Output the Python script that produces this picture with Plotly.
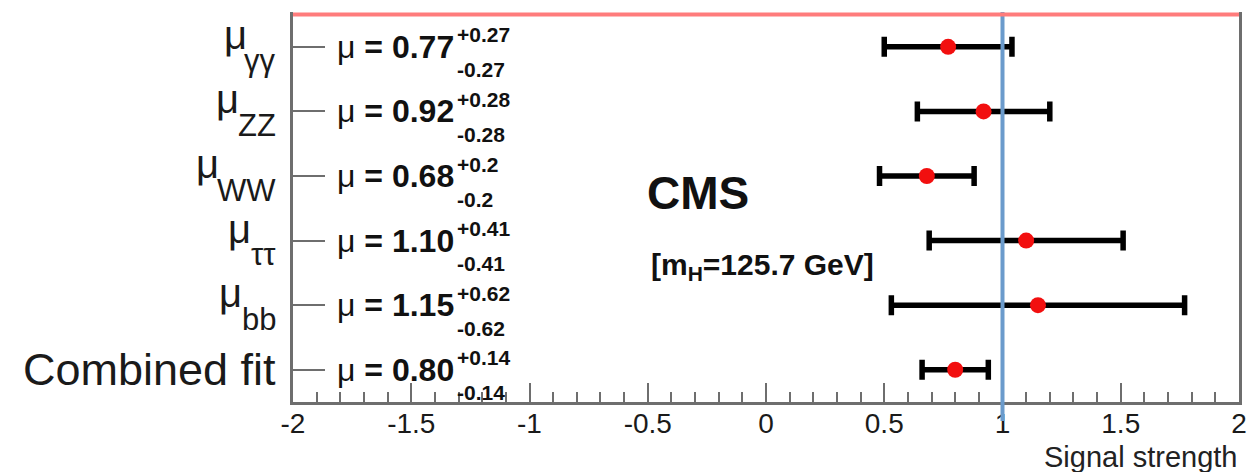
import plotly.graph_objects as go

# Channel signal strengths (best fit and symmetric uncertainty)
channels = ["γγ", "ZZ", "WW", "ττ", "bb", "Combined fit"]
mu_values = [0.77, 0.92, 0.68, 1.10, 1.15, 0.80]
mu_up = [0.27, 0.28, 0.2, 0.41, 0.62, 0.14]
mu_down = [0.27, 0.28, 0.2, 0.41, 0.62, 0.14]
x_ticks = [-2, -1.5, -1, -0.5, 0, 0.5, 1, 1.5, 2]
x_tick_labels = ["-2", "-1.5", "-1", "-0.5", "0", "0.5", "1", "1.5", "2"]
sm_value = 1.0

W, H = 1258, 472
L, R, T, B = 293, 19, 12, 70
PW, PH = W - L - R, H - T - B

FONT = "Liberation Sans, Arial, Helvetica, sans-serif"
AXIS_GREY = "#6e6e6e"


def px_x(px):
    return (px - L) / PW


def px_y(py):
    return 1 - (py - T) / PH


rows = list(range(len(channels)))

fig = go.Figure()

fig.add_trace(go.Scatter(
    x=mu_values,
    y=rows,
    mode="markers",
    marker=dict(color="#f20f0f", size=16, line=dict(width=0)),
    error_x=dict(
        type="data",
        symmetric=False,
        array=mu_up,
        arrayminus=mu_down,
        color="#000000",
        thickness=5.5,
        width=10,
    ),
    showlegend=False,
    cliponaxis=False,
))

shapes = [
    # SM expectation
    dict(type="line", xref="x", yref="paper", x0=sm_value, x1=sm_value,
         y0=px_y(421), y1=1, line=dict(color="#6b9bcc", width=4), layer="above"),
    # top boundary
    dict(type="line", xref="paper", yref="y", x0=0, x1=1, y0=-0.5, y1=-0.5,
         line=dict(color="#ff7c7c", width=4), layer="above"),
]

annotations = []

# Channel labels on the left: mu with a lowered subscript
mu_left = {"γγ": 222, "ZZ": 214, "WW": 194, "ττ": 226, "bb": 217}
for i, ch in enumerate(channels):
    if ch == "Combined fit":
        annotations.append(dict(
            text=ch, xref="paper", yref="y", x=px_x(278), y=i,
            xanchor="right", yanchor="middle", showarrow=False,
            font=dict(family=FONT, size=45, color="#1a1a1a"),
        ))
        continue
    annotations.append(dict(
        text="μ", xref="paper", yref="y", x=px_x(mu_left[ch]), y=i, yshift=12,
        xanchor="left", yanchor="middle", showarrow=False,
        font=dict(family=FONT, size=40, color="#1a1a1a"),
    ))
    annotations.append(dict(
        text=ch, xref="paper", yref="y", x=px_x(278), y=i, yshift=-14,
        xanchor="right", yanchor="middle", showarrow=False,
        font=dict(family=FONT, size=31, color="#1a1a1a"),
    ))

# Fitted values with their uncertainties
for i, (v, up, dn) in enumerate(zip(mu_values, mu_up, mu_down)):
    annotations.append(dict(
        text=f"μ <b>= {v:.2f}</b>", xref="paper", yref="y", x=px_x(456), y=i,
        xanchor="right", yanchor="middle", showarrow=False,
        font=dict(family=FONT, size=32, color="#111111"),
    ))
    annotations.append(dict(
        text=f"<b>+{up:g}</b>", xref="paper", yref="y", x=px_x(455), y=i, yshift=12,
        xanchor="left", yanchor="middle", showarrow=False,
        font=dict(family=FONT, size=21, color="#111111"),
    ))
    annotations.append(dict(
        text=f"<b>-{dn:g}</b>", xref="paper", yref="y", x=px_x(455), y=i, yshift=-23,
        xanchor="left", yanchor="middle", showarrow=False,
        font=dict(family=FONT, size=21, color="#111111"),
    ))

annotations += [
    dict(text="<b>CMS</b>", xref="paper", yref="paper", x=px_x(698), y=px_y(193),
         xanchor="center", yanchor="middle", showarrow=False,
         font=dict(family=FONT, size=46, color="#111111")),
    dict(text="<b>[m<sub>H</sub>=125.7 GeV]</b>", xref="paper", yref="paper",
         x=px_x(649), y=px_y(266), xanchor="left", yanchor="middle", showarrow=False,
         font=dict(family=FONT, size=30, color="#111111")),
    dict(text="Signal strength", xref="paper", yref="paper", x=px_x(1239), y=px_y(457),
         xanchor="right", yanchor="middle", showarrow=False,
         font=dict(family=FONT, size=29, color="#222222")),
]

fig.update_layout(
    width=W, height=H,
    margin=dict(l=L, r=R, t=T, b=B, pad=0),
    paper_bgcolor="white",
    plot_bgcolor="white",
    shapes=shapes,
    annotations=annotations,
    xaxis=dict(
        range=[-2, 2],
        tickvals=x_ticks,
        ticktext=x_tick_labels,
        ticks="inside",
        ticklen=19,
        tickwidth=2,
        tickcolor=AXIS_GREY,
        minor=dict(dtick=0.1, ticks="inside", ticklen=10, tickwidth=2, tickcolor=AXIS_GREY),
        showline=True,
        linecolor=AXIS_GREY,
        linewidth=3,
        mirror=False,
        showgrid=False,
        zeroline=False,
        tickfont=dict(family=FONT, size=28, color="#1a1a1a"),
        ticklabelstandoff=-6,
    ),
    yaxis=dict(
        range=[5.5, -0.54],
        tickvals=rows,
        showticklabels=False,
        ticks="inside",
        ticklen=32,
        tickwidth=2,
        tickcolor=AXIS_GREY,
        showline=True,
        linecolor=AXIS_GREY,
        linewidth=3,
        mirror=True,
        showgrid=False,
        zeroline=False,
    ),
)

fig.write_html("out.html")
